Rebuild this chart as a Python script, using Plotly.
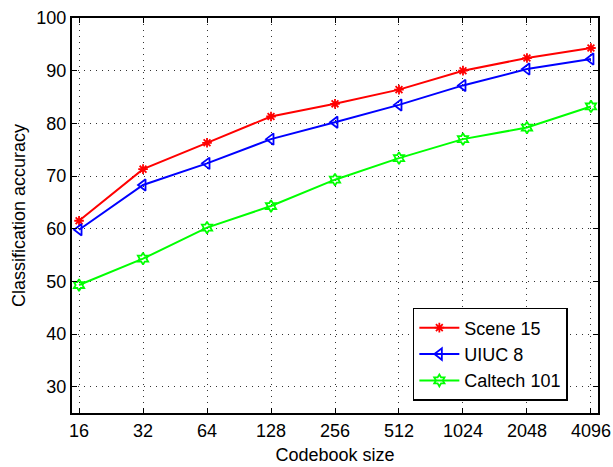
import plotly.graph_objects as go
import math

codebook_sizes = [16, 32, 64, 128, 256, 512, 1024, 2048, 4096]
tick_labels = [str(s) for s in codebook_sizes]
scene15 = [61.5, 71.3, 76.3, 81.3, 83.7, 86.4, 90.0, 92.4, 94.3]
uiuc8 = [59.8, 68.3, 72.4, 77.0, 80.2, 83.5, 87.2, 90.3, 92.2]
caltech101 = [49.3, 54.3, 60.2, 64.3, 69.3, 73.4, 77.0, 79.2, 83.2]
y_ticks = [30, 40, 50, 60, 70, 80, 90, 100]

fig = go.Figure()
series = [
    ("Scene 15", scene15, "#ff0000", "asterisk-open", 8),
    ("UIUC 8", uiuc8, "#0000ff", "triangle-left-open", 10),
    ("Caltech 101", caltech101, "#00ff00", "hexagram-open", 9),
]
for name, vals, col, sym, sz in series:
    fig.add_trace(go.Scatter(
        x=codebook_sizes, y=vals, name=name, mode="lines+markers",
        line=dict(color=col, width=2),
        marker=dict(symbol=sym, size=sz, color=col, line=dict(color=col, width=1.8)),
    ))

lo = math.log10(2) * (math.log2(16) - 0.11)
hi = math.log10(2) * (math.log2(4096) + 0.11)

FS = 18
axis_common = dict(
    showline=True, linecolor="black", linewidth=2, mirror="ticks",
    ticks="inside", ticklen=5, tickwidth=1, tickcolor="black",
    showgrid=True, gridcolor="#333333", gridwidth=1, griddash="1px,5px",
    zeroline=False, tickfont=dict(size=FS, color="black"), automargin=False,
)
fig.update_xaxes(type="log", range=[lo, hi], tickvals=codebook_sizes, ticktext=tick_labels,
                 title=dict(text="Codebook size", font=dict(size=FS, color="black"), standoff=9),
                 **axis_common)
fig.update_yaxes(range=[25, 100], tickvals=y_ticks,
                 title=dict(text="Classification accuracy", font=dict(size=FS, color="black"), standoff=6),
                 **axis_common)

fig.update_layout(
    width=613, height=467,
    margin=dict(l=72, r=15, t=18, b=54),
    paper_bgcolor="white", plot_bgcolor="white",
    font=dict(family="Liberation Sans, Arial, sans-serif", color="black"),
    legend=dict(x=0.648, y=0.266, xanchor="left", yanchor="top",
                bgcolor="white", bordercolor="black", borderwidth=1.5,
                font=dict(size=FS, color="black"), itemwidth=40,
                tracegroupgap=0),
    showlegend=True,
)

fig.write_html("out.html")
